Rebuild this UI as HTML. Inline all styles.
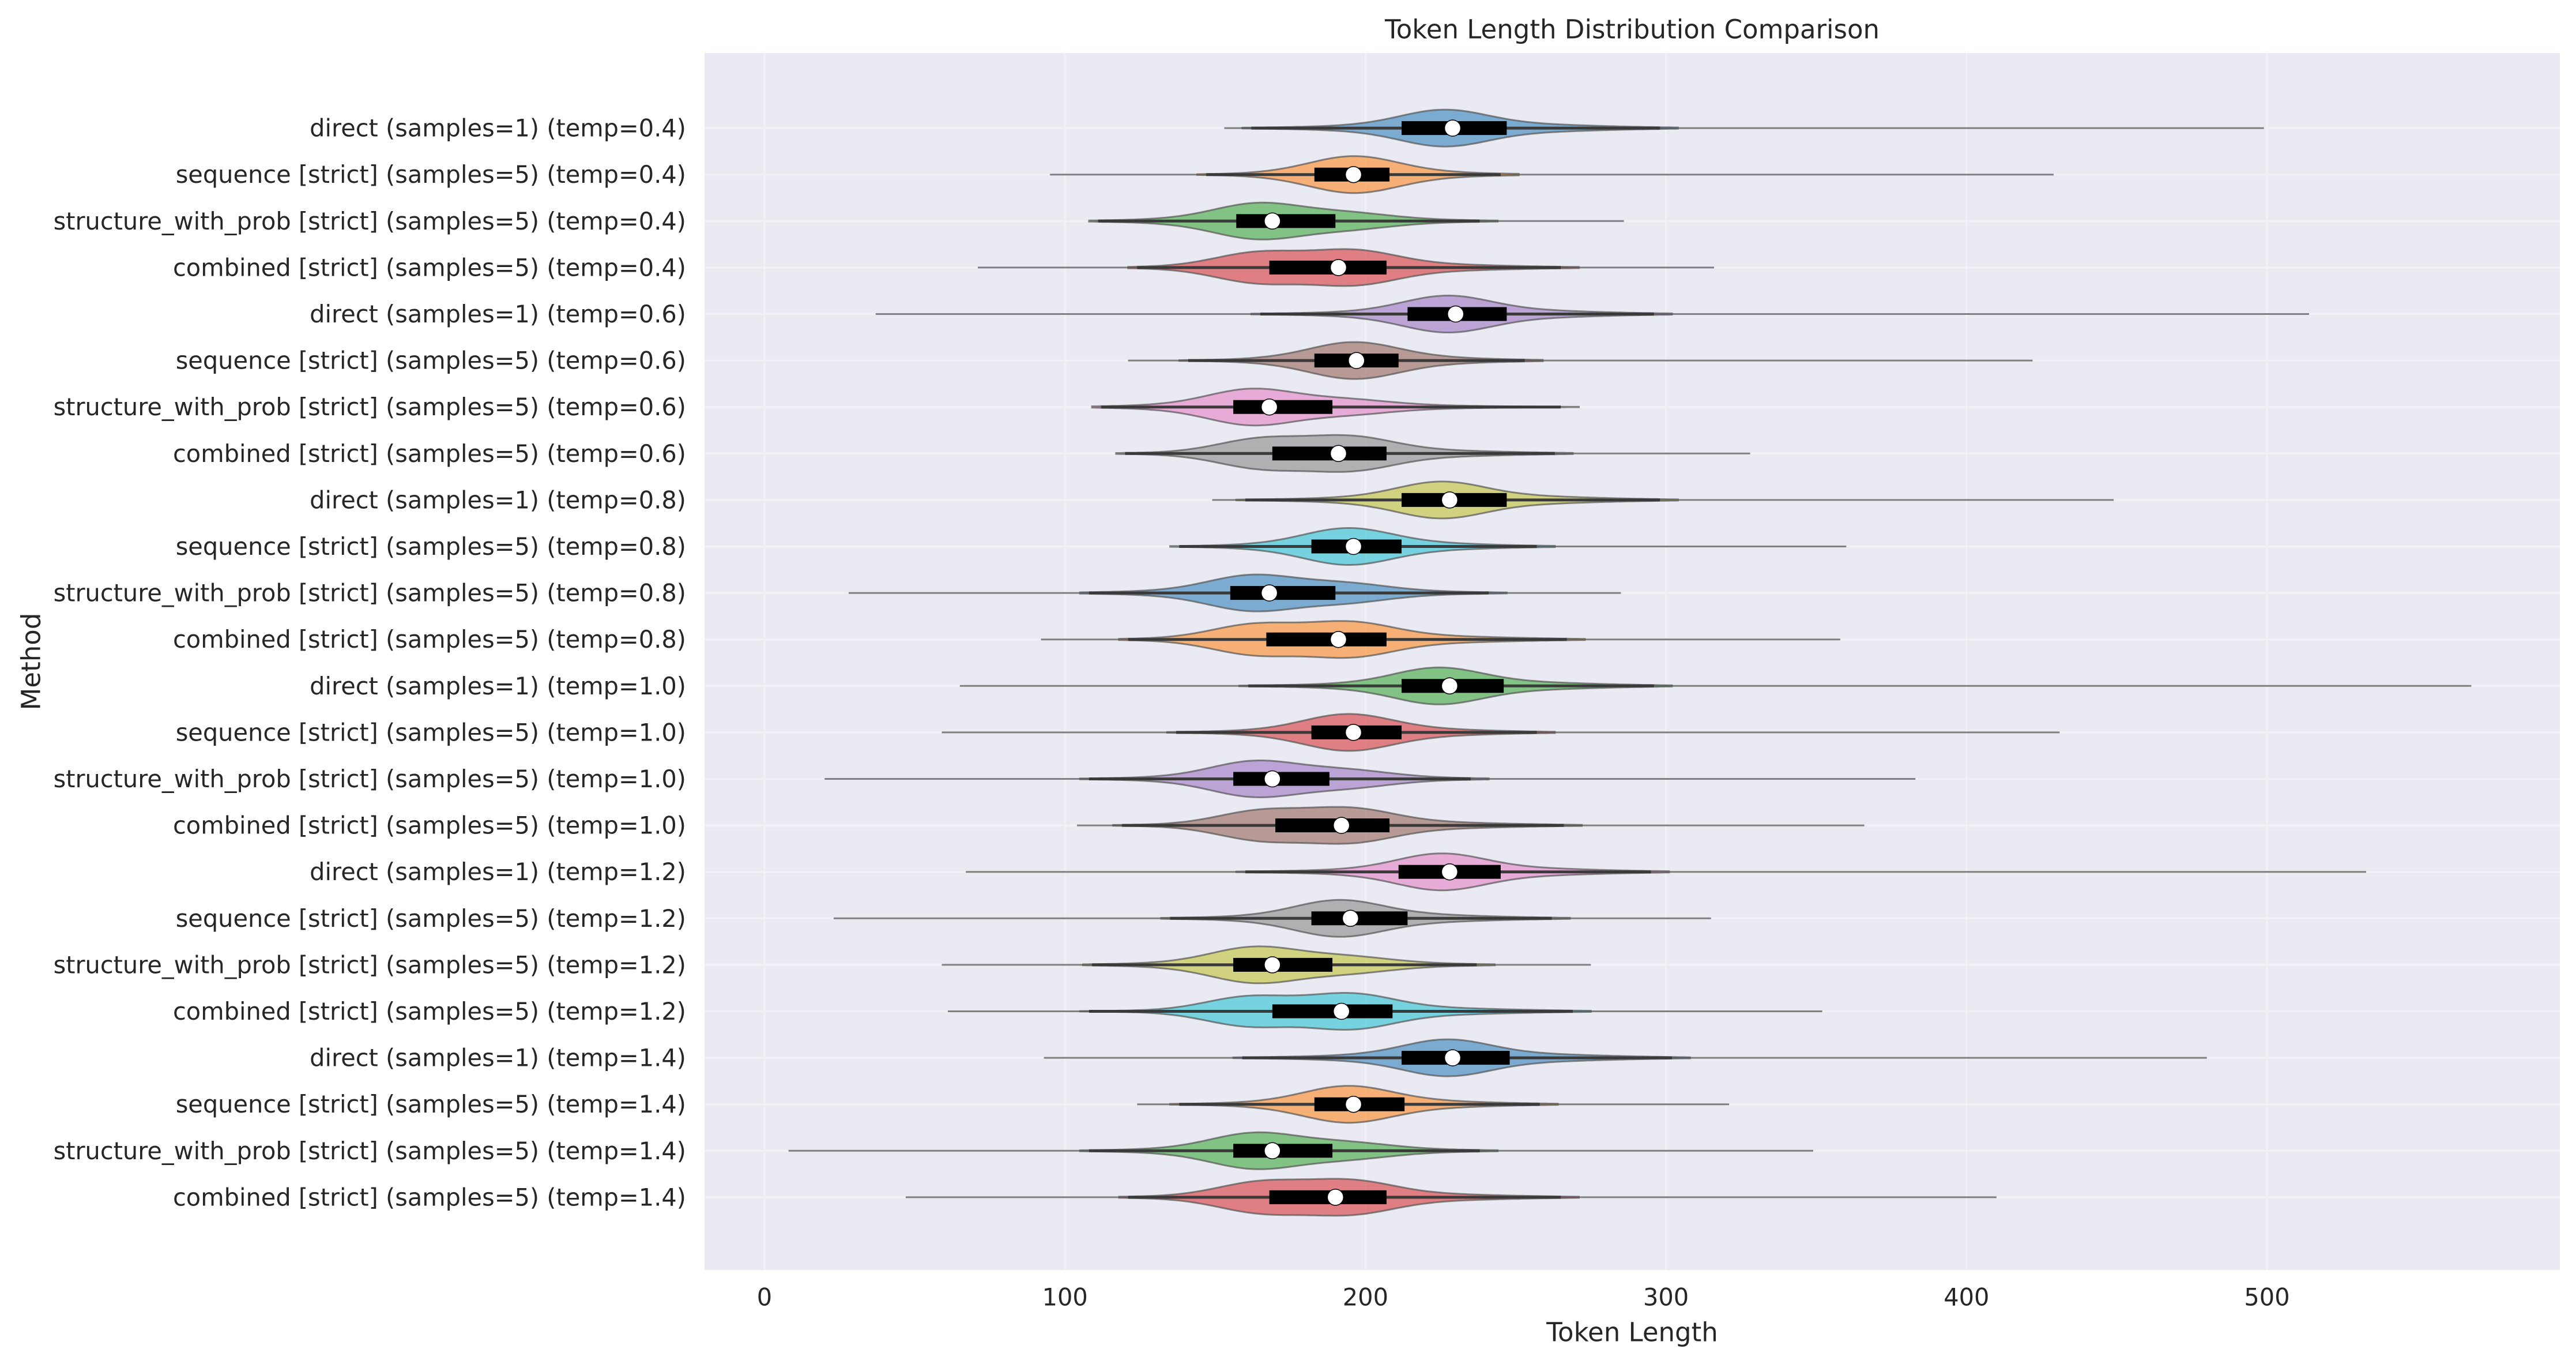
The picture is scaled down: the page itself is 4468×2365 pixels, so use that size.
<!DOCTYPE html>
<html><head><meta charset="utf-8"><style>
html,body{margin:0;padding:0;background:#fff;}
svg{display:block;font-family:"DejaVu Sans","Liberation Sans",sans-serif;}
</style></head><body>
<svg id="chart" width="4468" height="2365" viewBox="0 0 4468 2365" xmlns="http://www.w3.org/2000/svg">
<rect x="1222" y="92" width="3218" height="2110" fill="#eaeaf2"/>
<g id="grid"></g>
<g id="marks"></g>
<g id="axes"></g>
<text x="2831" y="51" font-size="45" fill="#262626" text-anchor="middle" dominant-baseline="central">Token Length Distribution Comparison</text>
<text x="2831" y="2310" font-size="45" fill="#262626" text-anchor="middle" dominant-baseline="central">Token Length</text>
<text x="54" y="1147" font-size="45" fill="#262626" text-anchor="middle" dominant-baseline="central" transform="rotate(-90 54 1147)">Method</text>
</svg>
<script>
const categories = [
"direct (samples=1) (temp=0.4)","sequence [strict] (samples=5) (temp=0.4)","structure_with_prob [strict] (samples=5) (temp=0.4)","combined [strict] (samples=5) (temp=0.4)",
"direct (samples=1) (temp=0.6)","sequence [strict] (samples=5) (temp=0.6)","structure_with_prob [strict] (samples=5) (temp=0.6)","combined [strict] (samples=5) (temp=0.6)",
"direct (samples=1) (temp=0.8)","sequence [strict] (samples=5) (temp=0.8)","structure_with_prob [strict] (samples=5) (temp=0.8)","combined [strict] (samples=5) (temp=0.8)",
"direct (samples=1) (temp=1.0)","sequence [strict] (samples=5) (temp=1.0)","structure_with_prob [strict] (samples=5) (temp=1.0)","combined [strict] (samples=5) (temp=1.0)",
"direct (samples=1) (temp=1.2)","sequence [strict] (samples=5) (temp=1.2)","structure_with_prob [strict] (samples=5) (temp=1.2)","combined [strict] (samples=5) (temp=1.2)",
"direct (samples=1) (temp=1.4)","sequence [strict] (samples=5) (temp=1.4)","structure_with_prob [strict] (samples=5) (temp=1.4)","combined [strict] (samples=5) (temp=1.4)"];
const minVals   = [153,95,111,71, 37,121,112,120, 149,138,28,92, 65,59,20,104, 67,23,59,61, 93,124,8,47];
const maxVals   = [499,429,286,316, 514,422,265,328, 449,360,285,358, 568,431,383,366, 533,315,275,352, 480,321,349,410];
const whiskLo   = [162,147,111,124, 165,141,112,120, 160,138,108,121, 161,137,108,119, 160,135,109,108, 159,138,108,121];
const whiskHi   = [298,245,238,265, 296,253,265,263, 298,257,241,267, 296,257,235,266, 295,262,237,269, 302,258,238,265];
const q1Vals    = [212,183,157,168, 214,183,156,169, 212,182,155,167, 212,182,156,170, 211,182,156,169, 212,183,156,168];
const q3Vals    = [247,208,190,207, 247,211,189,207, 247,212,190,207, 246,212,188,208, 245,214,189,209, 248,213,189,207];
const medians   = [229,196,169,191, 230,197,168,191, 228,196,168,191, 228,196,169,192, 228,195,169,192, 229,196,169,190];
const peak1     = [226,196,164,164, 227,196,162,165, 225,194,162,163, 224,194,163,165, 225,191,163,161, 227,194,163,165];
const peak2     = [0,0,194,196, 0,0,194,195, 0,0,193,195, 0,0,194,195, 0,0,194,195, 0,0,194,195];
const peak2Wt   = [0,0,0.35,1.05, 0,0,0.3,1.05, 0,0,0.45,1.05, 0,0,0.4,1.05, 0,0,0.35,1.1, 0,0,0.35,1.0];
const xTicks    = [0,100,200,300,400,500];
const colors = ["#1f77b4","#ff7f0e","#2ca02c","#d62728","#9467bd","#8c564b","#e377c2","#7f7f7f","#bcbd22","#17becf"];

const NS="http://www.w3.org/2000/svg";
const PL=1222, PR=4440, PT=92, PB=2202;
function xScale(v){ return 1326 + v*5.212; }
function yScale(i){ return PT + (i+1.614)*80.6; }
function mk(tag, attrs, parent){ const e=document.createElementNS(NS,tag); for(const k in attrs) e.setAttribute(k,attrs[k]); parent.appendChild(e); return e; }
const grid=document.getElementById('grid'), marks=document.getElementById('marks'), axes=document.getElementById('axes');

xTicks.forEach(t=>{
  const g=mk('line',{x1:xScale(t),x2:xScale(t),y1:PT,y2:PB,stroke:'#f2f2f6','stroke-width':3},grid);
  
  
  const lb=mk('text',{x:xScale(t),y:2249,'font-size':41.5,fill:'#262626','text-anchor':'middle','dominant-baseline':'central'},axes);
  lb.textContent=t;
  
  
});
categories.forEach((c,i)=>{
  const g=mk('line',{x1:PL,x2:PR,y1:yScale(i),y2:yScale(i),stroke:'#f2f2f6','stroke-width':3},grid);
  
  
  const lb=mk('text',{x:1190,y:yScale(i),'font-size':41.5,fill:'#262626','text-anchor':'end','dominant-baseline':'central'},axes);
  lb.textContent=c;
  
  
});

function gauss(v,m,s){ return Math.exp(-0.5*((v-m)/s)*((v-m)/s)); }
categories.forEach((c,i)=>{
  const cy=yScale(i), col=colors[i%10];
  const grp=mk('g',{},marks);
  
  
  const spread=(q3Vals[i]-q1Vals[i])*0.9;
  const dens=v=> gauss(v,peak1[i],14) + (peak2[i]? peak2Wt[i]*gauss(v,peak2[i],14):0) + 0.35*gauss(v,medians[i],spread) + 0.07*gauss(v,(medians[i]+whiskHi[i])/2,28);
  const lo=whiskLo[i]-3, hi=whiskHi[i]+6;
  let dmax=0; const pts=[];
  for(let v=lo; v<=hi; v+=1){ const d=dens(v); pts.push([v,d]); if(d>dmax) dmax=d; }
  let top='', bot='';
  pts.forEach(([v,d],k)=>{ const h=32*d/dmax; top+=(k?'L':'M')+xScale(v).toFixed(1)+' '+(cy-h).toFixed(1); });
  for(let k=pts.length-1;k>=0;k--){ const [v,d]=pts[k]; const h=32*d/dmax; bot+='L'+xScale(v).toFixed(1)+' '+(cy+h).toFixed(1); }
  const thin=mk('line',{x1:xScale(minVals[i]),x2:xScale(maxVals[i]),y1:cy,y2:cy,stroke:'#808080','stroke-width':3},grp);
  
  
  const vp=mk('path',{d:top+bot+'Z',fill:col,'fill-opacity':0.55,stroke:'#555','stroke-opacity':0.7,'stroke-width':3},grp);
  
  
  const wl=mk('line',{x1:xScale(whiskLo[i]),x2:xScale(whiskHi[i]),y1:cy,y2:cy,stroke:'#3a3a3a','stroke-width':5},grp);
  
  
  const bx=mk('rect',{x:xScale(q1Vals[i]),y:cy-12,width:xScale(q3Vals[i])-xScale(q1Vals[i]),height:24,fill:'#000'},grp);
  
  
  const md=mk('circle',{cx:xScale(medians[i]),cy:cy,r:14,fill:'#fff',stroke:'#000','stroke-width':1.5},grp);
  
  
});
</script>
</body></html>
